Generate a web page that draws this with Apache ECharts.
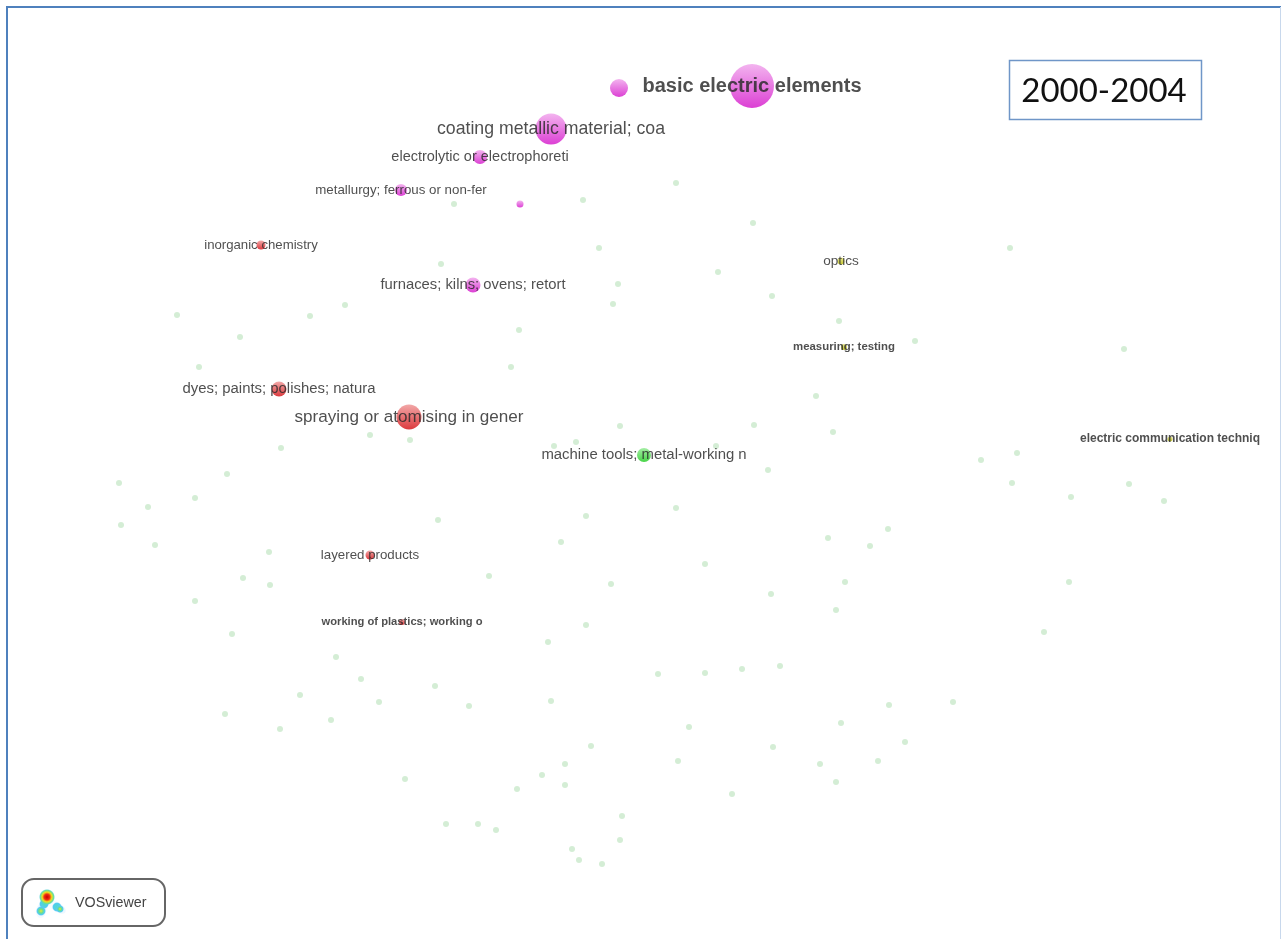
<!DOCTYPE html>
<html><head><meta charset="utf-8">
<style>html,body{margin:0;padding:0;background:#fff}#c{width:1281px;height:939px;filter:blur(0.45px)}</style>
<script src="https://cdn.jsdelivr.net/npm/echarts@6/dist/echarts.min.js"></script>
</head><body><div id="c"></div>
<script>
// [x, y] positions
const minorPoints = [[676,183],[583,200],[454,204],[753,223],[599,248],[1010,248],[718,272],[441,264],[618,284],[772,296],[613,304],[345,305],[310,316],[177,315],[519,330],[240,337],[839,321],[915,341],[1124,349],[199,367],[511,367],[816,396],[620,426],[754,425],[833,432],[370,435],[410,440],[554,446],[576,442],[716,446],[281,448],[1017,453],[981,460],[768,470],[227,474],[1012,483],[119,483],[1129,484],[1071,497],[1164,501],[195,498],[148,507],[676,508],[586,516],[438,520],[121,525],[888,529],[828,538],[561,542],[870,546],[155,545],[269,552],[705,564],[489,576],[243,578],[270,585],[611,584],[845,582],[1069,582],[771,594],[195,601],[836,610],[586,625],[232,634],[1044,632],[548,642],[336,657],[780,666],[742,669],[705,673],[658,674],[361,679],[435,686],[300,695],[379,702],[551,701],[953,702],[889,705],[469,706],[225,714],[331,720],[841,723],[689,727],[280,729],[905,742],[591,746],[773,747],[678,761],[878,761],[565,764],[820,764],[542,775],[405,779],[565,785],[836,782],[517,789],[732,794],[622,816],[446,824],[478,824],[496,830],[620,840],[572,849],[579,860],[602,864]];
const magentaNames = ["basic electric elements","","coating metallic material; coa","electrolytic or electrophoreti","metallurgy; ferrous or non-fer","","furnaces; kilns; ovens; retort"];
const magentaPoints = [[752,86,44],[619,88,18],[551,129,31],[480,157,14],[401,190,12],[520,204,7],[473,285,15]];
const redNames = ["spraying or atomising in gener","dyes; paints; polishes; natura","inorganic chemistry","layered products","working of plastics; working o"];
const redPoints = [[409,417,25],[279,389,15],[261,245,9],[370,555,9],[402,622,6]];
const greenNames = ["machine tools; metal-working n"];
const greenPoints = [[644,455,14]];
const yellowNames = ["optics","measuring; testing","electric communication techniq"];
const yellowPoints = [[841,261,7],[844,347,6],[1170,439,5]];
const labelFonts = {"basic electric elements":[20,'bold'],"coating metallic material; coa":[17.7],"spraying or atomising in gener":[17.1],"electrolytic or electrophoreti":[14.5],"metallurgy; ferrous or non-fer":[13.3],"furnaces; kilns; ovens; retort":[14.8],"dyes; paints; polishes; natura":[14.9],"inorganic chemistry":[13.2],"layered products":[13.3],"working of plastics; working o":[11.2,'bold'],"machine tools; metal-working n":[14.9],"optics":[13.6],"measuring; testing":[11.4,'bold'],"electric communication techniq":[12,'bold']};
const yearLabel = "2000-2004";
const logoLabel = "VOSviewer";

function grad(top,bottom){return {type:'linear',x:0,y:0,x2:0,y2:1,colorStops:[{offset:0,color:top},{offset:1,color:bottom}]};}
function cluster(names,pts,top,bottom){
  return {type:'scatter',z:3,silent:true,symbolSize:v=>v[2],
    itemStyle:{color:grad(top,bottom),opacity:1},
    data:pts.map((p,i)=>({value:p,name:names[i],
      label:{show:!!names[i],position:'inside',offset:[0,1],formatter:names[i],color:'rgba(40,40,40,0.82)',
        fontFamily:'Liberation Sans',fontSize:(labelFonts[names[i]]||[12])[0],
        fontWeight:(labelFonts[names[i]]||[])[1]==='bold'?'bold':'normal'}})),
    labelLayout:{hideOverlap:false}};
}
const chart=echarts.init(document.getElementById('c'),null,{renderer:'canvas'});
const blob=(x,y,rx,ry,rot,stops)=>({type:'ellipse',shape:{cx:0,cy:0,rx:rx,ry:ry},x:x,y:y,rotation:rot,z:12,silent:true,
  style:{fill:{type:'radial',x:.5,y:.5,r:.5,colorStops:stops}}});
const cool=[{offset:0,color:'#e8e83a'},{offset:.4,color:'#6ce08c'},{offset:.75,color:'#50ccf0'},{offset:1,color:'rgba(120,200,250,0.1)'}];
const base=[{offset:0,color:'#50dcc0'},{offset:.75,color:'#50ccf0'},{offset:1,color:'rgba(120,200,250,0.05)'}];
const hot=[{offset:0,color:'#c80000'},{offset:.35,color:'#f02c10'},{offset:.6,color:'#f0dc20'},{offset:.85,color:'#60e0a0'},{offset:1,color:'rgba(90,200,240,0)'}];
chart.setOption({
  animation:false,
  backgroundColor:'#fff',
  grid:{left:0,right:0,top:0,bottom:0},
  xAxis:{type:'value',min:0,max:1281,show:false},
  yAxis:{type:'value',min:0,max:939,inverse:true,show:false},
  series:[
    {type:'scatter',z:2,silent:true,symbolSize:6,itemStyle:{color:'#c9e8cb'},data:minorPoints},
    cluster(magentaNames,magentaPoints,'#f3b4ef','#dc40d4'),
    cluster(redNames,redPoints,'#f2a8a8','#dc3a3e'),
    cluster(greenNames,greenPoints,'#a4eea4','#48d448'),
    cluster(yellowNames,yellowPoints,'#e8e890','#c4c430')
  ],
  graphic:[
    {type:'rect',shape:{x:7,y:7,width:1280,height:940},z:1,silent:true,style:{fill:'none',stroke:'#4f81bd',lineWidth:2}},
    {type:'line',shape:{x1:1280.5,y1:7,x2:1280.5,y2:939},z:1,silent:true,style:{stroke:'#c8d8ec',lineWidth:1}},
    {type:'rect',shape:{x:1009.5,y:60.5,width:192,height:59},z:10,silent:true,style:{fill:'#fff',stroke:'#6f96c8',lineWidth:1.5}},
    {type:'text',x:1104,y:91,z:11,silent:true,style:{text:yearLabel,fill:'#111',font:'33px Lato',align:'center',verticalAlign:'middle'}},
    {type:'rect',shape:{x:22,y:879,width:143,height:47,r:12},z:10,silent:true,style:{fill:'#fff',stroke:'#666',lineWidth:2}},
    {type:'text',x:75,y:903,z:11,silent:true,style:{text:logoLabel,fill:'#444',font:'14.3px "Liberation Sans"',align:'left',verticalAlign:'middle'}},
    blob(44,904,5,11,-0.3,base),
    blob(57,907,10,5,-0.55,base),
    blob(41,911,5,7,-0.1,cool),
    blob(60,909,6,4,-0.5,cool),
    blob(47,897,8,11,0.1,hot)
  ]
});
</script></body></html>
